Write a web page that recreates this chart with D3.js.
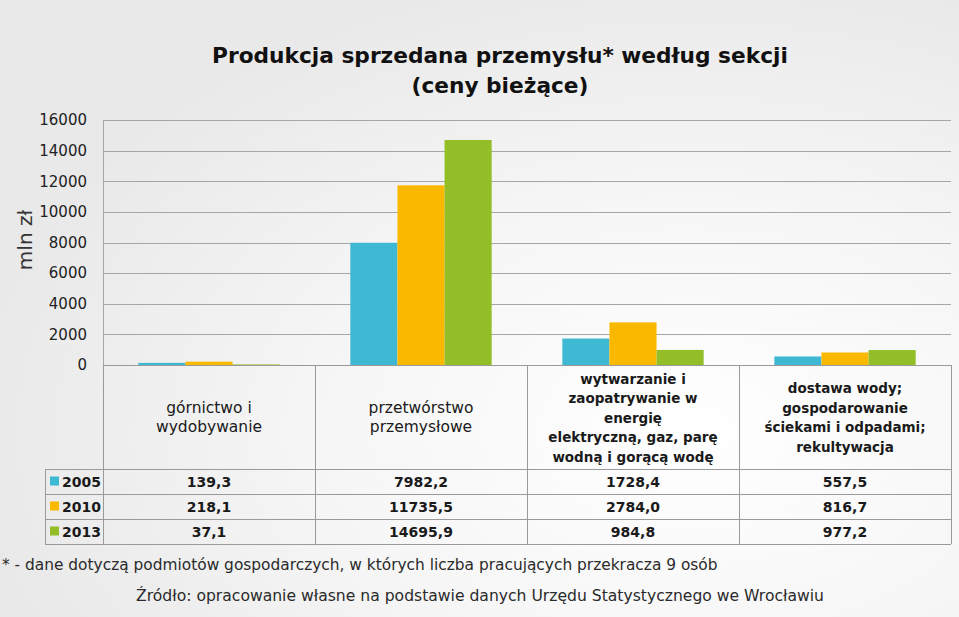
<!DOCTYPE html>
<html><head><meta charset="utf-8">
<script src="https://cdn.jsdelivr.net/npm/d3@7"></script>
<style>html,body{margin:0;padding:0;}svg{display:block;}</style>
</head><body>
<script>
const categories = [
  ["górnictwo i","wydobywanie"],
  ["przetwórstwo","przemysłowe"],
  ["wytwarzanie i","zaopatrywanie w","energię","elektryczną, gaz, parę","wodną i gorącą wodę"],
  ["dostawa wody;","gospodarowanie","ściekami i odpadami;","rekultywacja"]
];
const years = ["2005","2010","2013"];
const values2005 = [139.3, 7982.2, 1728.4, 557.5];
const values2010 = [218.1, 11735.5, 2784.0, 816.7];
const values2013 = [37.1, 14695.9, 984.8, 977.2];
const colors = ["#3fb8d4","#fbb800","#93be27"];
const yTicks = [0,2000,4000,6000,8000,10000,12000,14000,16000];
const title = ["Produkcja sprzedana przemysłu* według sekcji","(ceny bieżące)"];
const yLabel = "mln zł";
const footnote = "* - dane dotyczą podmiotów gospodarczych, w których liczba pracujących przekracza 9 osób";
const source = "Źródło: opracowanie własne na podstawie danych Urzędu Statystycznego we Wrocławiu";

(function(){
const series = [values2005, values2010, values2013];
const fmt = v => v.toFixed(1).replace(".", ",");

const W = 959, H = 617;
const FONT = "'DejaVu Sans', sans-serif";
const svg = d3.select("body").append("svg").attr("width", W).attr("height", H)
  .style("font-family", FONT);

const defs = svg.append("defs");
const rg = defs.append("radialGradient").attr("id","bg")
  .attr("cx","0.72").attr("cy","0.7").attr("r","0.75");
rg.append("stop").attr("offset","0").attr("stop-color","#ffffff");
rg.append("stop").attr("offset","0.5").attr("stop-color","#f6f6f6");
rg.append("stop").attr("offset","1").attr("stop-color","#e9e9e9");
svg.append("rect").attr("width",W).attr("height",H).attr("fill","url(#bg)");

const pLeft = 103, pRight = 951, pTop = 120, base = 365;
const x = d3.scaleBand().domain(d3.range(categories.length)).range([pLeft, pRight]).padding(0);
const bw = x.bandwidth();
const gap = bw * 1.5 / 4.5;
const x1 = d3.scaleBand().domain(years).range([gap/2, bw - gap/2]).padding(0);
const y = d3.scaleLinear().domain([0,16000]).range([base, pTop]);

const gridColor = "#a6a6a6";
svg.append("g").selectAll("line").data(yTicks).join("line")
  .attr("x1", pLeft).attr("x2", pRight)
  .attr("y1", d => Math.round(y(d))+0.5).attr("y2", d => Math.round(y(d))+0.5)
  .attr("stroke", gridColor).attr("stroke-width", 1);
svg.append("line").attr("x1", pLeft+0.5).attr("x2", pLeft+0.5).attr("y1", pTop).attr("y2", base)
  .attr("stroke", gridColor);

const yAxis = d3.axisLeft(y).tickValues(yTicks).tickSize(0).tickPadding(16).tickFormat(d3.format("d"));
const ya = svg.append("g").attr("transform", `translate(${pLeft},0)`).call(yAxis);
ya.select(".domain").remove();
ya.selectAll("text").attr("font-family", FONT).attr("font-size", 15).attr("fill","#222");

svg.append("text").attr("transform", `translate(32,240) rotate(-90)`)
  .attr("text-anchor","middle").attr("font-size", 20).attr("fill","#333").text(yLabel);

const g = svg.append("g");
series.forEach((vals, si) => {
  g.selectAll(null).data(vals).join("rect")
    .attr("x", (d,i) => x(i) + x1(years[si]))
    .attr("width", x1.bandwidth())
    .attr("y", d => y(d))
    .attr("height", d => y(0) - y(d))
    .attr("fill", colors[si]);
});

svg.append("g").selectAll("text").data(title).join("text")
  .attr("x", 500).attr("y", (d,i) => 63 + i*30)
  .attr("text-anchor","middle").attr("font-size", 21.7).attr("font-weight","bold")
  .attr("fill","#111").text(d => d);

const tableTop = base, headBottom = 469, rowH = 25, legLeft = 45;
const tg = svg.append("g").attr("stroke","#9a9a9a").attr("stroke-width",1);
d3.range(categories.length+1).forEach(i => {
  const xx = i < categories.length ? x(i) : pRight;
  tg.append("line").attr("x1", Math.round(xx)+0.5).attr("x2", Math.round(xx)+0.5)
    .attr("y1", tableTop).attr("y2", headBottom + rowH*3);
});
tg.append("line").attr("x1", legLeft+0.5).attr("x2", legLeft+0.5)
  .attr("y1", headBottom).attr("y2", headBottom + rowH*3);
d3.range(4).forEach(r => {
  const yy = headBottom + r*rowH + 0.5;
  tg.append("line").attr("x1", legLeft).attr("x2", pRight).attr("y1", yy).attr("y2", yy);
});
tg.append("line").attr("x1", pLeft).attr("x2", pRight).attr("y1", base+0.5).attr("y2", base+0.5);

categories.forEach((lines, i) => {
  const lh = 19.5;
  const cy = (tableTop + headBottom)/2;
  const y0 = cy - (lines.length-1)*lh/2 + 5.5;
  svg.append("g").selectAll("text").data(lines).join("text")
    .attr("x", x(i) + bw/2).attr("y", (d,k) => y0 + k*lh)
    .attr("text-anchor","middle").attr("font-size", i >= 2 ? 13.5 : 15.5)
    .attr("font-weight", i >= 2 ? "bold" : "normal")
    .attr("fill","#1a1a1a").text(d => d);
});

years.forEach((yr, r) => {
  const cy = headBottom + r*rowH + rowH/2;
  svg.append("rect").attr("x", 50).attr("y", cy-5).attr("width", 9).attr("height", 9).attr("fill", colors[r]);
  svg.append("text").attr("x", 62).attr("y", cy+5.5).attr("font-size", 14).attr("font-weight","bold")
    .attr("fill","#1a1a1a").text(yr);
  svg.append("g").selectAll("text").data(series[r]).join("text")
    .attr("x", (d,i) => x(i) + bw/2).attr("y", cy+5.5)
    .attr("text-anchor","middle").attr("font-size", 14).attr("font-weight","bold")
    .attr("fill","#1a1a1a").text(d => fmt(d));
});

svg.append("text").attr("x", 2).attr("y", 570).attr("font-size", 15.4).attr("fill","#2a2a2a").text(footnote);
svg.append("text").attr("x", 480).attr("y", 601).attr("text-anchor","middle").attr("font-size", 15.6)
  .attr("fill","#2a2a2a").text(source);
})();
</script>
</body></html>
